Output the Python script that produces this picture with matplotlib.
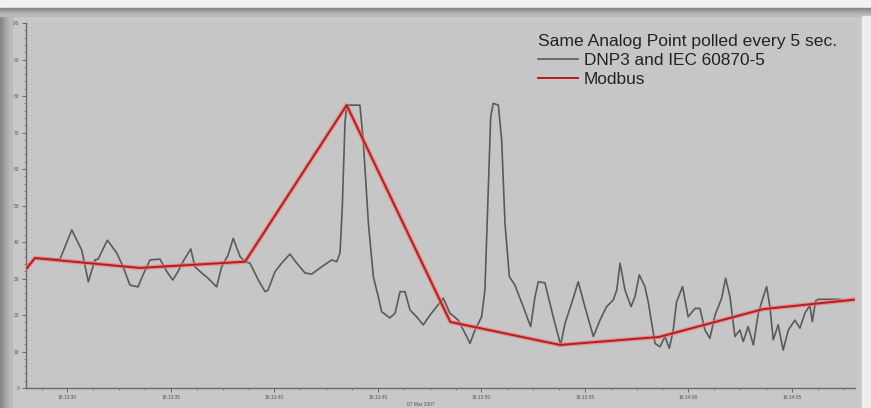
import matplotlib
matplotlib.use("Agg")
import matplotlib.pyplot as plt
from matplotlib.patches import Rectangle
from matplotlib.ticker import FixedLocator, MultipleLocator, FuncFormatter
import numpy as np

# seconds after 16:13:00
dnp3_t = [28.03, 28.43, 29.64, 30.21, 30.69, 31.01, 31.33, 31.48, 31.93, 32.38,
          32.69, 33.02, 33.41, 33.65, 33.99, 34.47, 34.80, 35.09, 35.34, 35.58,
          35.96, 36.16, 36.49, 36.79, 37.21, 37.45, 37.76, 38.01, 38.34, 38.58,
          38.82, 39.22, 39.55, 39.69, 40.03, 40.35, 40.75, 41.08, 41.48, 41.80,
          42.28, 42.77, 43.01, 43.17, 43.28, 43.41, 43.49, 44.13, 44.29, 44.54,
          44.78, 45.02, 45.18, 45.58, 45.83, 46.07, 46.31, 46.55, 46.87, 47.19,
          47.52, 47.84, 48.16, 48.48, 48.88, 49.29, 49.45, 49.69, 50.01, 50.17,
          50.33, 50.45, 50.57, 50.82, 50.98, 51.14, 51.35, 51.62, 52.02, 52.38,
          52.59, 52.75, 53.07, 53.47, 53.83, 54.04, 54.36, 54.68, 55.00, 55.41,
          55.73, 56.05, 56.37, 56.54, 56.70, 56.94, 57.23, 57.42, 57.63, 57.90,
          58.06, 58.39, 58.63, 58.87, 59.08, 59.27, 59.43, 59.72, 59.99, 60.32,
          60.56, 60.80, 61.04, 61.29, 61.61, 61.80, 62.01, 62.25, 62.49, 62.65,
          62.89, 63.14, 63.38, 63.62, 63.78, 63.94, 64.10, 64.34, 64.58, 64.83,
          65.15, 65.39, 65.63, 65.87, 65.99, 66.15, 66.26, 67.32]
dnp3_v = [32.8, 35.6, 35.3, 43.3, 37.8, 29.1, 35.1, 35.3, 40.5, 37.0,
          33.2, 28.2, 27.7, 31.0, 35.1, 35.3, 31.9, 29.6, 31.9, 34.6,
          38.1, 33.2, 31.5, 30.1, 27.7, 33.2, 36.4, 41.0, 36.0, 34.6,
          34.2, 29.6, 26.4, 26.8, 31.9, 34.2, 36.7, 34.2, 31.5, 31.2,
          33.2, 35.1, 34.6, 37.0, 49.7, 72.6, 77.5, 77.5, 67.9, 45.2,
          30.5, 25.0, 20.9, 19.2, 20.5, 26.4, 26.4, 21.4, 19.5, 17.3,
          20.0, 22.3, 24.6, 20.5, 18.6, 14.1, 12.2, 15.9, 19.5, 26.8,
          54.2, 74.3, 78.0, 77.5, 67.9, 45.2, 30.5, 28.2, 22.3, 16.8,
          25.0, 29.1, 28.8, 19.5, 11.8, 17.7, 23.2, 29.1, 22.3, 14.1,
          18.6, 22.3, 24.1, 26.8, 34.2, 26.8, 22.3, 25.0, 31.0, 27.8,
          23.6, 12.2, 11.3, 14.1, 10.9, 15.9, 23.6, 27.8, 19.5, 21.8,
          21.8, 15.9, 13.6, 20.0, 24.6, 30.1, 25.0, 14.1, 15.9, 12.7,
          16.8, 11.8, 20.5, 25.0, 27.8, 22.3, 13.2, 17.3, 10.4, 15.9,
          18.6, 16.4, 20.5, 22.7, 18.2, 23.9, 24.3, 24.3]

modbus_t = [28.03, 28.43, 33.5, 38.58, 43.49, 48.5, 53.8, 58.6, 63.6, 68.0]
modbus_v = [32.8, 35.6, 32.9, 34.6, 77.5, 18.1, 11.8, 14.0, 21.6, 24.2]

x_ticks = [30, 35, 40, 45, 50, 55, 60, 65]
legend_title = "Same Analog Point polled every 5 sec."
labels = ["DNP3 and IEC 60870-5", "Modbus"]
date_label = "07 Mar 2007"

plt.rcParams['font.family'] = ['Liberation Sans', 'DejaVu Sans']

fig = plt.figure(figsize=(8.71, 4.08), dpi=100, facecolor='#c8c8c8')

# screenshot frame: white strip on top, dark bevel top and left
fig.patches.append(Rectangle((0, 0.980), 1, 0.020, transform=fig.transFigure,
                             color='#f2f2f2', zorder=0))
for i, c in enumerate(['#8a8a8a', '#9c9c9c', '#adadad', '#bababa']):
    fig.patches.append(Rectangle((0, 0.980 - 0.005 * (i + 1)), 1, 0.005,
                                 transform=fig.transFigure, color=c, zorder=0))
    fig.patches.append(Rectangle((0.0035 * i, 0), 0.0035, 0.960,
                                 transform=fig.transFigure, color=c, zorder=0))
fig.patches.append(Rectangle((0.990, 0), 0.010, 0.960, transform=fig.transFigure,
                             color='#eeeeee', zorder=0))

ax = fig.add_axes([0.0299, 0.049, 0.9517, 0.8946])
ax.set_facecolor('#c6c6c6')

ax.plot(dnp3_t, dnp3_v, color='#5a5a5a', lw=1.2, label=labels[0], zorder=3,
        solid_joinstyle='round')
ax.plot(modbus_t, modbus_v, color='#e87a7a', lw=3.2, alpha=0.7, zorder=4)
ax.plot(modbus_t, modbus_v, color='#b81c1c', lw=1.4, label=labels[1], zorder=5)

ax.set_xlim(28.0, 68.05)
ax.set_ylim(0, 100)

ax.xaxis.set_major_locator(FixedLocator(x_ticks))
ax.xaxis.set_major_formatter(FuncFormatter(
    lambda s, p: f"16:{13 + int(s) // 60}:{int(s) % 60:02d}"))
ax.xaxis.set_minor_locator(MultipleLocator(1.25))
ax.yaxis.set_major_locator(MultipleLocator(10))
ax.yaxis.set_minor_locator(MultipleLocator(2))

ax.tick_params(axis='both', which='major', labelsize=3.5, colors='#555555',
               length=3, width=0.6, pad=2)
ax.tick_params(axis='both', which='minor', length=1.5, width=0.5, colors='#666666')

for s in ['top', 'right']:
    ax.spines[s].set_visible(False)
for s in ['left', 'bottom']:
    ax.spines[s].set_color('#6a6a6a')
    ax.spines[s].set_linewidth(1.0)

fig.text(0.483, 0.006, date_label, fontsize=3.5, color='#555555', ha='center')

leg = ax.legend(title=legend_title, loc='upper left', bbox_to_anchor=(0.603, 1.003),
                frameon=False, fontsize=12.4, title_fontsize=12.6, alignment='left',
                handlelength=2.35, handletextpad=0.3, labelspacing=0.22,
                borderpad=0.2)
leg.get_title().set_color('#222222')
for t in leg.get_texts():
    t.set_color('#222222')

fig.savefig('out.png', dpi=100, facecolor=fig.get_facecolor())
